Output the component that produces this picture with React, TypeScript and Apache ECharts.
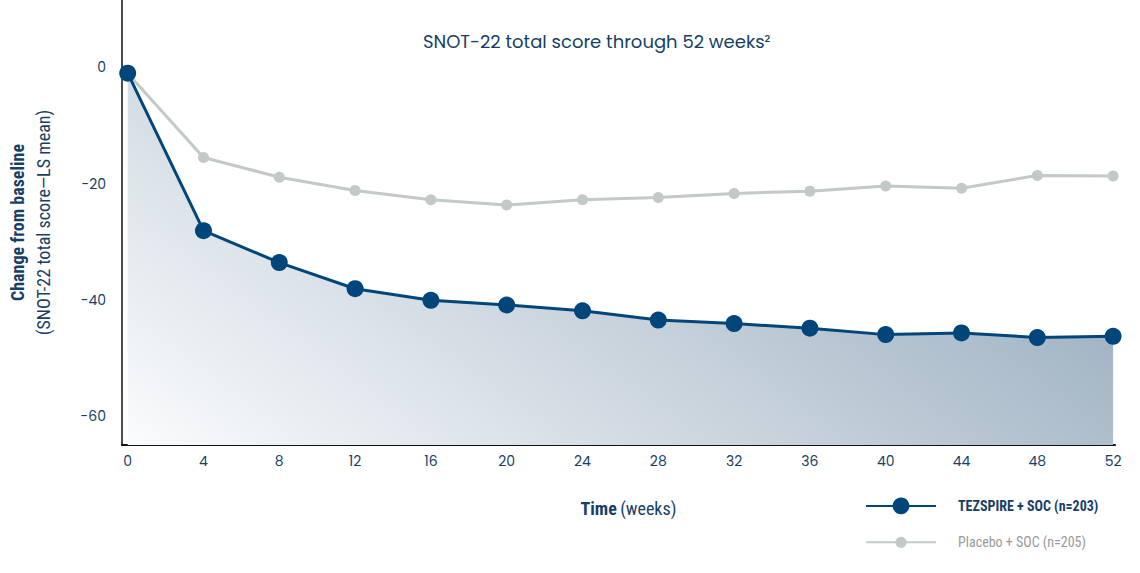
import React, { useEffect, useRef } from "react";
import * as echarts from "echarts";

const weeks = [0, 4, 8, 12, 16, 20, 24, 28, 32, 36, 40, 44, 48, 52];
const xTickLabels = [0, 4, 8, 12, 16, 20, 24, 28, 32, 36, 40, 44, 48, 52];
const yTickLabels = [0, -20, -40, -60];
const tezspire = [-1.0, -28.1, -33.6, -38.1, -40.1, -40.9, -41.9, -43.5, -44.1, -44.9, -46.0, -45.7, -46.5, -46.3];
const placebo = [-1.0, -15.5, -18.9, -21.2, -22.8, -23.7, -22.8, -22.4, -21.7, -21.3, -20.4, -20.8, -18.6, -18.7];
const tezName = "TEZSPIRE + SOC (n=203)";
const placeboName = "Placebo + SOC (n=205)";

const NAVY = "#00467a";
const GRAY = "#c3c8c8";
const TEXT = "#173f66";
const COND = '"Roboto Condensed", "Liberation Sans Narrow", "DejaVu Sans Condensed", Roboto, sans-serif';
const GEO = 'Poppins, Inter, "Open Sans", sans-serif';

export default function App() {
  const ref = useRef<HTMLDivElement>(null);
  useEffect(() => {
    if (!ref.current) return;
    const chart = echarts.init(ref.current, undefined, { renderer: "svg" });
    const tezData = weeks.map((w, i) => [w, tezspire[i]]);
    const plaData = weeks.map((w, i) => [w, placebo[i]]);
    chart.setOption({
      animation: false,
      backgroundColor: "#ffffff",
      title: {
        text: "SNOT-22 total score through 52 weeks²",
        left: 423,
        top: 32,
        padding: 0,
        textStyle: { fontFamily: GEO, fontSize: 18, fontWeight: "normal", color: TEXT },
      },
      grid: { left: 119, right: 25, top: 0, bottom: 128 },
      legend: [
        {
          data: [{ name: tezName }],
          left: 865,
          top: 497.5,
          padding: 0,
          itemWidth: 70,
          itemHeight: 21,
          selectedMode: false,
          textStyle: { fontFamily: COND, fontSize: 14, fontWeight: "bold", color: TEXT, padding: [0, 0, 0, 17] },
        },
        {
          data: [{ name: placeboName }],
          left: 865,
          top: 535.3,
          padding: 0,
          itemWidth: 70,
          itemHeight: 14,
          selectedMode: false,
          textStyle: { fontFamily: COND, fontSize: 14, color: "#9a9a9a", padding: [0, 0, 0, 17] },
        },
      ],
      xAxis: {
        type: "value",
        min: -0.3,
        max: 52.1,
        name: "{b|Time} {r|(weeks)}",
        nameLocation: "middle",
        nameGap: 54,
        nameTextStyle: {
          padding: [0, 0, 0, 20],
          rich: {
            b: { fontFamily: COND, fontSize: 18, fontWeight: "bold", color: TEXT },
            r: { fontFamily: COND, fontSize: 18, color: TEXT },
          },
        },
        axisLine: { show: true, onZero: false, lineStyle: { color: "#111111", width: 2 } },
        axisTick: { show: false },
        splitLine: { show: false },
        axisLabel: {
          customValues: xTickLabels,
          margin: 9,
          fontFamily: GEO,
          fontSize: 14,
          color: TEXT,
        },
      },
      yAxis: {
        type: "value",
        min: -65,
        max: 11.6,
        name: "{b|Change from baseline}\n{r|(SNOT-22 total score—LS mean)}",
        nameLocation: "middle",
        nameRotate: 90,
        nameGap: 66,
        nameTextStyle: {
          align: "center",
          rich: {
            b: { fontFamily: COND, fontSize: 18, fontWeight: "bold", color: TEXT, lineHeight: 26, align: "center" },
            r: { fontFamily: COND, fontSize: 18, color: TEXT, lineHeight: 26, align: "center" },
          },
        },
        axisLine: { show: true, onZero: false, lineStyle: { color: "#111111", width: 1.5 } },
        axisTick: { show: false },
        splitLine: { show: false },
        axisLabel: {
          customValues: yTickLabels,
          margin: 16,
          fontFamily: GEO,
          fontSize: 14,
          color: TEXT,
        },
      },
      series: [
        {
          name: placeboName,
          type: "line",
          data: plaData,
          symbol: "circle",
          symbolSize: 11,
          itemStyle: { color: GRAY },
          lineStyle: { color: GRAY, width: 3 },
          z: 2,
        },
        {
          name: tezName,
          type: "line",
          data: tezData,
          symbol: "circle",
          symbolSize: 17,
          itemStyle: { color: NAVY },
          lineStyle: { color: NAVY, width: 3 },
          areaStyle: {
            origin: "start",
            opacity: 1,
            color: new echarts.graphic.LinearGradient(
              124, 445, 520, -94,
              [
                { offset: 0, color: "#fbfcfd" },
                { offset: 1, color: "#a3b5c5" },
              ],
              true
            ),
          },
          z: 3,
        },
      ],
    });
    return () => chart.dispose();
  }, []);
  return <div ref={ref} style={{ position: "fixed", left: 0, top: 0, width: 1140, height: 573 }} />;
}
